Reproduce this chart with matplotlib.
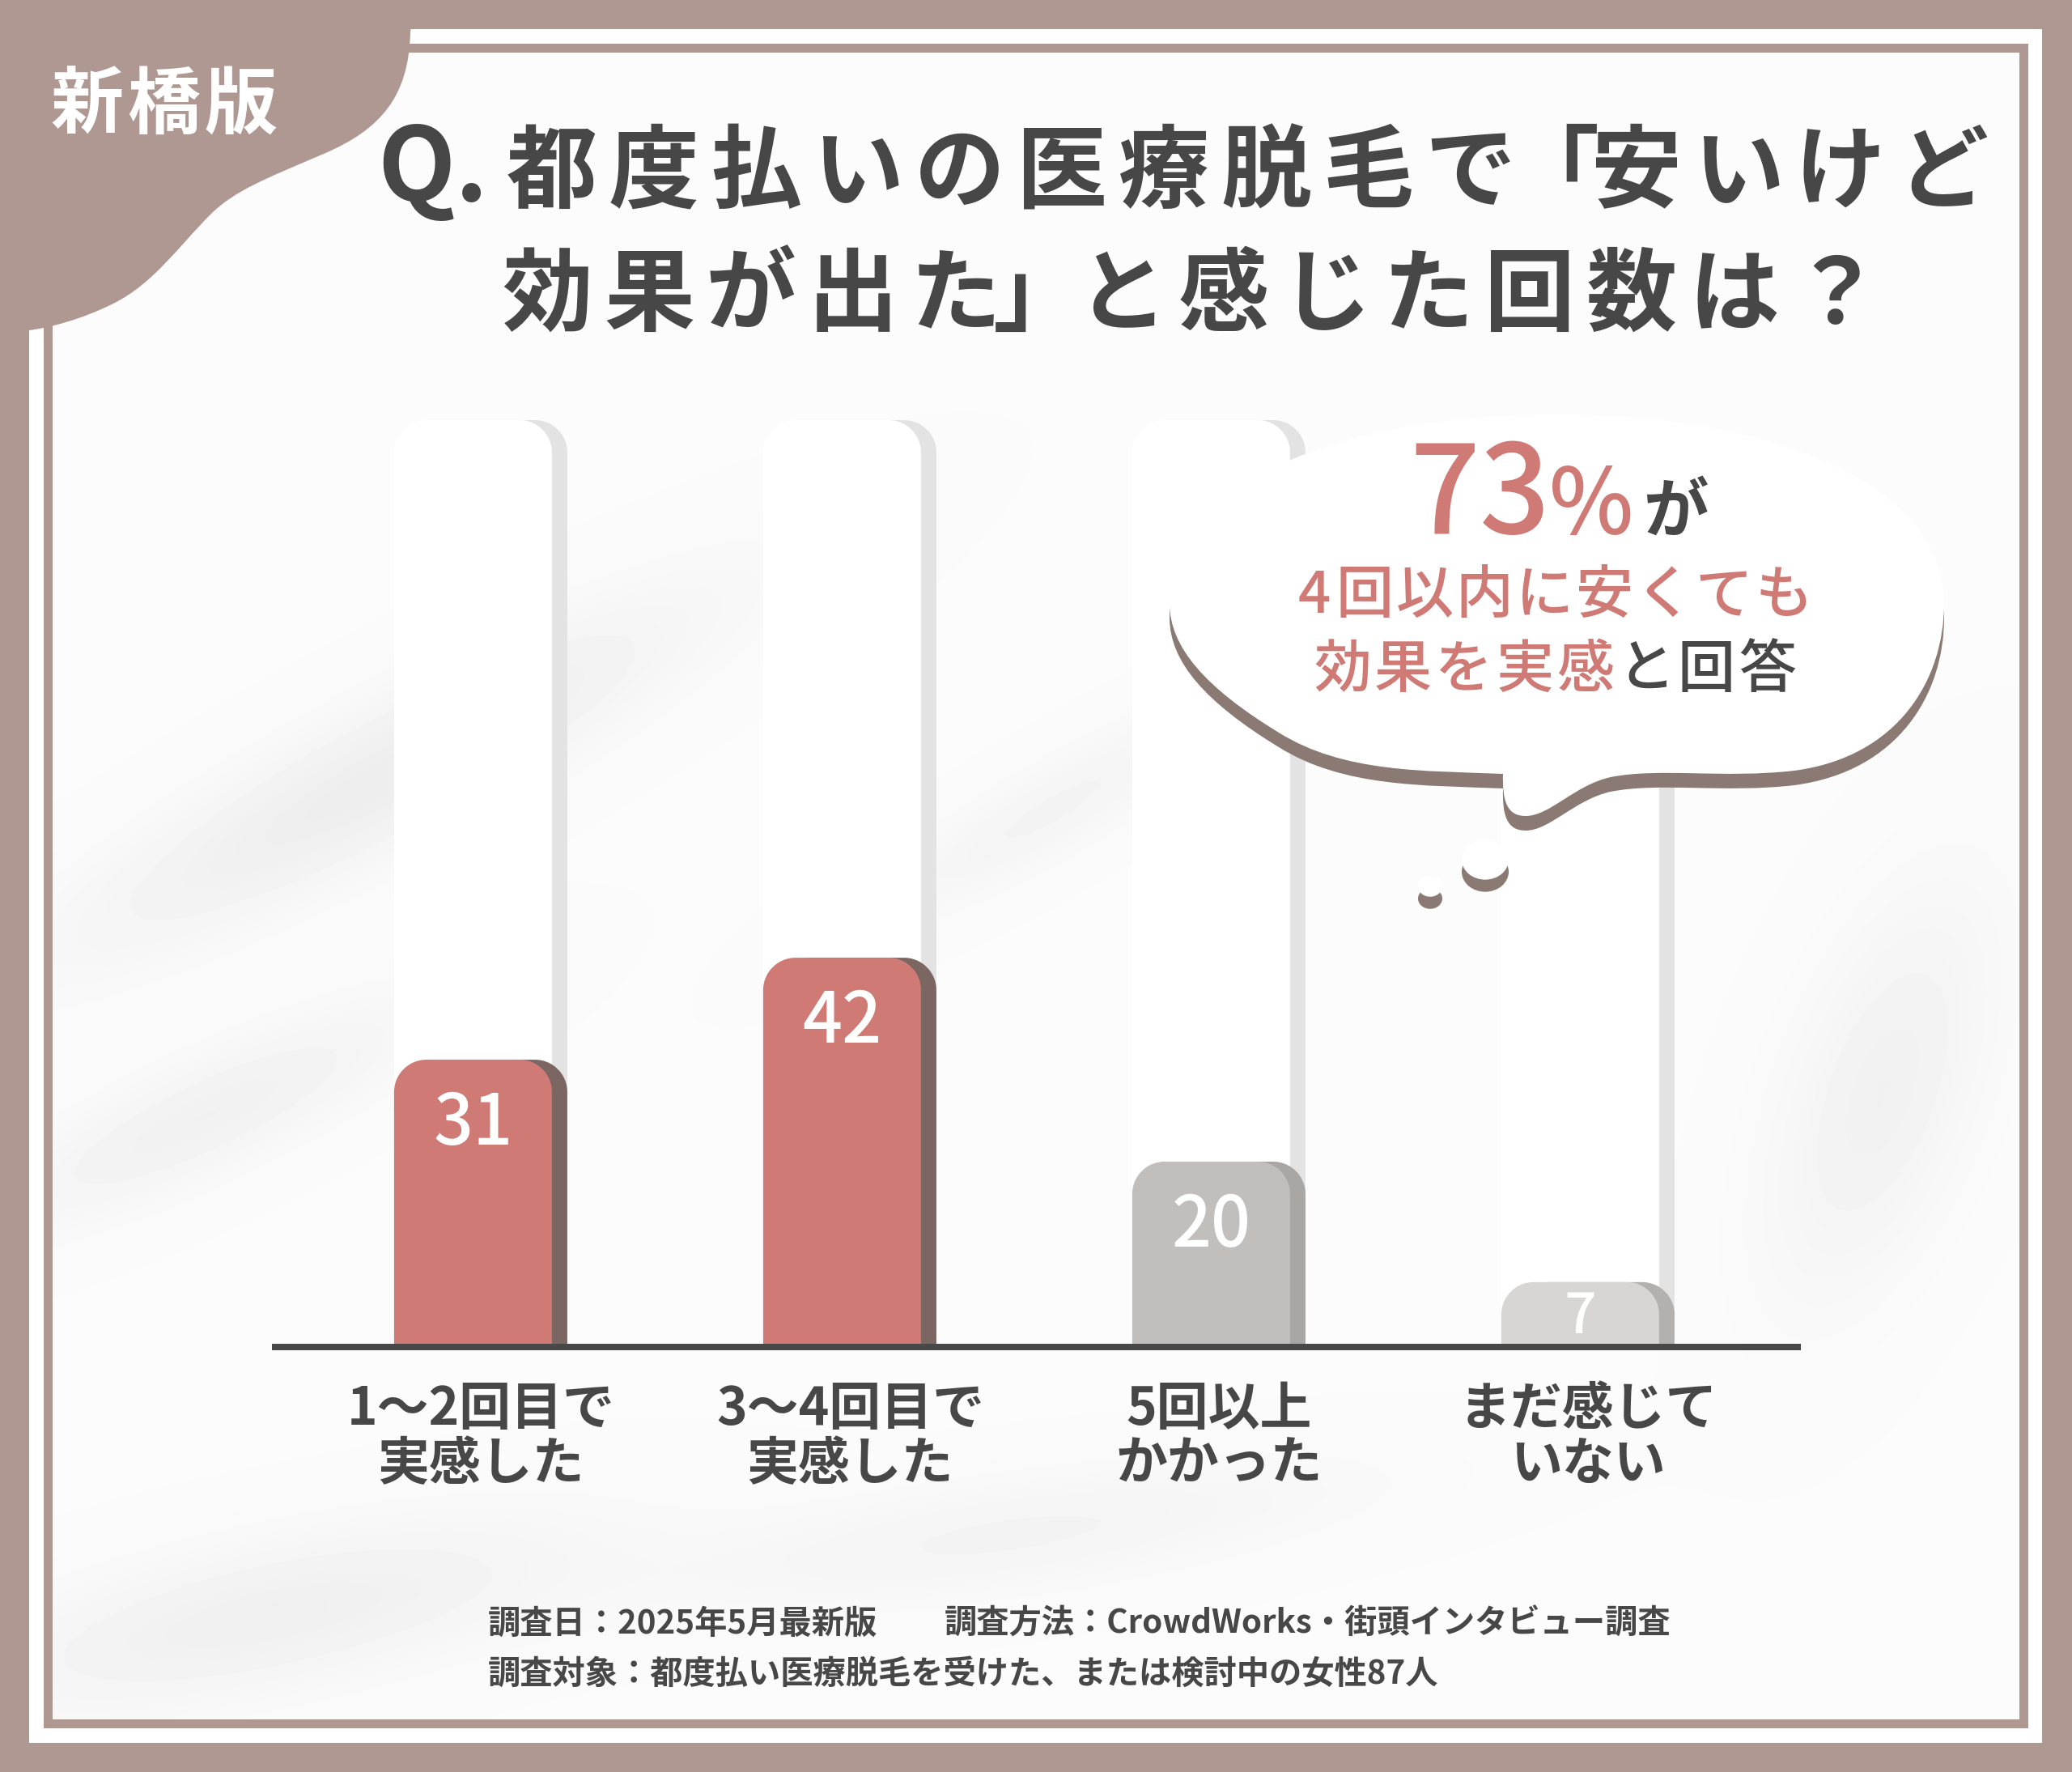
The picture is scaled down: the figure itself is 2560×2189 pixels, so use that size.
import numpy as np
import matplotlib
matplotlib.use('Agg')
import matplotlib.pyplot as plt
from matplotlib.path import Path
from matplotlib.patches import PathPatch, Rectangle, Ellipse
from matplotlib.transforms import blended_transform_factory

plt.rcParams['font.family'] = ['Noto Sans CJK JP', 'DejaVu Sans']

# ---- data ----
labels_top = ['1〜2回目で', '3〜4回目で', '5回以上', 'まだ感じて']
labels_bottom = ['実感した', '実感した', 'かかった', 'いない']
values = [31, 42, 20, 7]
track_max = 100
bar_colors = ['#CF7A75', '#CF7A75', '#C1BEBC', '#D8D6D5']
side_colors = ['#7C6662', '#7C6662', '#A9A6A4', '#B3B1B0']

title_q = 'Q.'
title_line1 = '都度払いの医療脱毛で「安いけど'
title_line2 = '効果が出た」と感じた回数は？'
corner_tag = '新橋版'
bubble_pct = '73'
bubble_line2 = '4回以内に安くても'
bubble_line3a = '効果を実感'
bubble_line3b = 'と回答'
footer_1a = '調査日：2025年5月最新版'
footer_1b = '調査方法：CrowdWorks・街頭インタビュー調査'
footer_2 = '調査対象：都度払い医療脱毛を受けた、または検討中の女性87人'

BROWN = '#AF9891'
DARK = '#474747'
PINK = '#CF7A75'
SHADOW = '#8B7A73'

# soft grey blotches of the background (cx, cy, length, width, angle, depth)
blotches = [(470, 960, 430, 85, 28, 0.055), (250, 1380, 300, 70, 25, 0.04),
            (330, 2000, 380, 90, 12, 0.045), (2330, 1350, 260, 110, 70, 0.04),
            (1300, 1000, 260, 55, 30, 0.03), (1250, 1900, 420, 70, 8, 0.03)]

W, H = 2560, 2189
fig = plt.figure(figsize=(W / 100, H / 100), dpi=100)
fig.patch.set_facecolor(BROWN)


def pix_axes(z):
    a = fig.add_axes([0, 0, 1, 1])
    a.set_xlim(0, W)
    a.set_ylim(H, 0)
    a.axis('off')
    a.set_zorder(z)
    return a


def top_round(x0, x1, y0, y1, rx, ry):
    k = 0.5523
    verts = [(x0, y0), (x0, y1 - ry),
             (x0, y1 - ry + k * ry), (x0 + rx - k * rx, y1), (x0 + rx, y1),
             (x1 - rx, y1),
             (x1 - rx + k * rx, y1), (x1, y1 - ry + k * ry), (x1, y1 - ry),
             (x1, y0), (x0, y0)]
    codes = [Path.MOVETO, Path.LINETO, Path.CURVE4, Path.CURVE4, Path.CURVE4,
             Path.LINETO, Path.CURVE4, Path.CURVE4, Path.CURVE4,
             Path.LINETO, Path.CLOSEPOLY]
    return Path(verts, codes)


def spaced(a, x0, y, chars, colors, size_px, adv, narrow=None, weight='bold'):
    narrow = narrow or {}
    x = x0
    for ch, c in zip(chars, colors):
        w = narrow.get(ch, adv)
        a.text(x + w / 2, y, ch, fontsize=size_px * 0.72, color=c, ha='center',
               va='baseline', fontweight=weight)
        x += w


# ---- background and frame ----
bg = pix_axes(0)
bg.add_patch(Rectangle((36, 36), 2487, 2117, fc='white', ec='none', zorder=1))
bg.add_patch(Rectangle((54, 54), 2452, 2081, fc=BROWN, ec='none', zorder=1))
xs = np.linspace(65, 2495, 244)
ys = np.linspace(65, 2124, 206)
X, Y = np.meshgrid(xs, ys)
shade = np.zeros_like(X)
for cx, cy, L, wd, ang, amp in blotches:
    t = np.radians(ang)
    u = (X - cx) * np.cos(t) - (Y - cy) * np.sin(t)
    v = (X - cx) * np.sin(t) + (Y - cy) * np.cos(t)
    shade += amp * np.exp(-(u / L) ** 2 - (v / wd) ** 2)
img = np.clip(0.985 - shade, 0, 1)
bg.imshow(img, extent=(65, 2495, 2124, 65), cmap='gray', vmin=0, vmax=1,
          interpolation='bilinear', aspect='auto', zorder=2)
bg.set_xlim(0, W)
bg.set_ylim(H, 0)

# corner blob
blob = Path([(0, 0), (512, 0), (507, 40),
             (505, 120), (470, 160), (400, 190),
             (330, 220), (290, 235), (260, 265),
             (220, 305), (190, 350), (140, 375),
             (100, 395), (60, 405), (36, 408),
             (0, 410), (0, 0)],
            [Path.MOVETO, Path.LINETO, Path.LINETO,
             Path.CURVE4, Path.CURVE4, Path.CURVE4,
             Path.CURVE4, Path.CURVE4, Path.CURVE4,
             Path.CURVE4, Path.CURVE4, Path.CURVE4,
             Path.CURVE4, Path.CURVE4, Path.CURVE4,
             Path.LINETO, Path.CLOSEPOLY])
bg.add_patch(PathPatch(blob, fc=BROWN, ec='none', zorder=3))

# ---- bar chart ----
x_lo, x_hi = -0.536, 3.589
ax = fig.add_axes([340 / W, (H - 1664) / H, 1881 / W, 1145 / H])
ax.set_xlim(x_lo, x_hi)
ax.set_ylim(0, track_max)
ax.axis('off')
ax.set_zorder(1)
px_x = 1881 / (x_hi - x_lo)
px_y = 1145 / track_max
bw = 195 / px_x
off = 19 / px_x
rx = 40 / px_x
ry = 40 / px_y

for i, v in enumerate(values):
    x0, x1 = i - bw / 2, i + bw / 2
    ax.add_patch(PathPatch(top_round(x0 + off, x1 + off, 0, track_max, rx, ry),
                           fc='#E3E3E3', ec='none', zorder=1))
    ax.add_patch(PathPatch(top_round(x0, x1, 0, track_max, rx, ry),
                           fc='white', ec='none', zorder=2))
    ax.add_patch(PathPatch(top_round(x0 + off, x1 + off, 0, v, rx, ry),
                           fc=side_colors[i], ec='none', zorder=3))
    ax.add_patch(PathPatch(top_round(x0, x1, 0, v, rx, ry),
                           fc=bar_colors[i], ec='none', zorder=4))
    fs = 62 if v > 10 else 50
    ax.text(i, max(v - 9.2, 1.5), str(v), color='white', fontsize=fs,
            ha='center', va='baseline', fontweight='medium', zorder=6)

ax.axhline(0, color='#484848', lw=8 * 0.72, zorder=5, clip_on=False)

top = pix_axes(2)
tr = blended_transform_factory(ax.transData, top.transData)
for i in range(len(values)):
    xc = i + 10 / px_x
    top.text(xc, 1760, labels_top[i], transform=tr, fontsize=46, color=DARK,
             ha='center', va='baseline', fontweight='bold')
    top.text(xc, 1828, labels_bottom[i], transform=tr, fontsize=46, color=DARK,
             ha='center', va='baseline', fontweight='bold')

# ---- speech bubble ----
bub_v = [(1445, 745),
         (1445, 600), (1650, 512), (1922, 512),
         (2195, 512), (2402, 600), (2402, 745),
         (2402, 840), (2345, 935), (2217, 952),
         (2130, 962), (2050, 948), (1990, 960),
         (1945, 970), (1915, 1008), (1885, 1008),
         (1862, 1008), (1856, 990), (1857, 956),
         (1760, 952), (1660, 955), (1580, 905),
         (1490, 850), (1445, 800), (1445, 745),
         (1445, 745)]
bub_c = [Path.MOVETO] + [Path.CURVE4] * 24 + [Path.CLOSEPOLY]
bub = Path(bub_v, bub_c)
shadow = Path([(x, y + 18) for x, y in bub_v], bub_c)
top.add_patch(PathPatch(shadow, fc=SHADOW, ec='none'))
top.add_patch(PathPatch(bub, fc='white', ec='none'))
for cx, cy, r in [(1835, 1062, 29), (1767, 1095, 15)]:
    top.add_patch(Ellipse((cx, cy + 15), 2 * r, 1.7 * r, fc=SHADOW, ec='none'))
    top.add_patch(Ellipse((cx, cy), 2 * r, 1.7 * r, fc='white', ec='none'))

top.text(1828, 659, bubble_pct, fontsize=110, color=PINK, ha='center',
         va='baseline', fontweight='medium')
top.text(1966, 659, '%', fontsize=80, color=PINK, ha='center',
         va='baseline', fontweight='medium')
top.text(2070, 657, 'が', fontsize=58, color=DARK, ha='center',
         va='baseline', fontweight='bold')
spaced(top, 1599, 757, bubble_line2, [PINK] * len(bubble_line2), 71, 74,
       narrow={'4': 50}, weight='medium')
line3 = bubble_line3a + bubble_line3b
spaced(top, 1621, 849, line3,
       [PINK] * len(bubble_line3a) + [DARK] * len(bubble_line3b), 71, 75,
       weight='medium')

# ---- title ----
top.text(466, 248, title_q, fontsize=90, color=DARK, ha='left', va='baseline',
         fontweight='bold')
spaced(top, 619, 248, title_line1, [DARK] * len(title_line1), 112, 126,
       narrow={'「': 80})
spaced(top, 613, 400, title_line2, [DARK] * len(title_line2), 112, 126,
       narrow={'」': 80})
spaced(top, 60, 158, corner_tag, ['white'] * 3, 90, 95)

# ---- footer ----
top.text(603, 2018, footer_1a, fontsize=29, color=DARK, ha='left',
         va='baseline', fontweight='bold')
top.text(1167, 2018, footer_1b, fontsize=29, color=DARK, ha='left',
         va='baseline', fontweight='bold')
top.text(603, 2080, footer_2, fontsize=29, color=DARK, ha='left',
         va='baseline', fontweight='bold')

fig.savefig('out.png', dpi=100, facecolor=fig.get_facecolor())
